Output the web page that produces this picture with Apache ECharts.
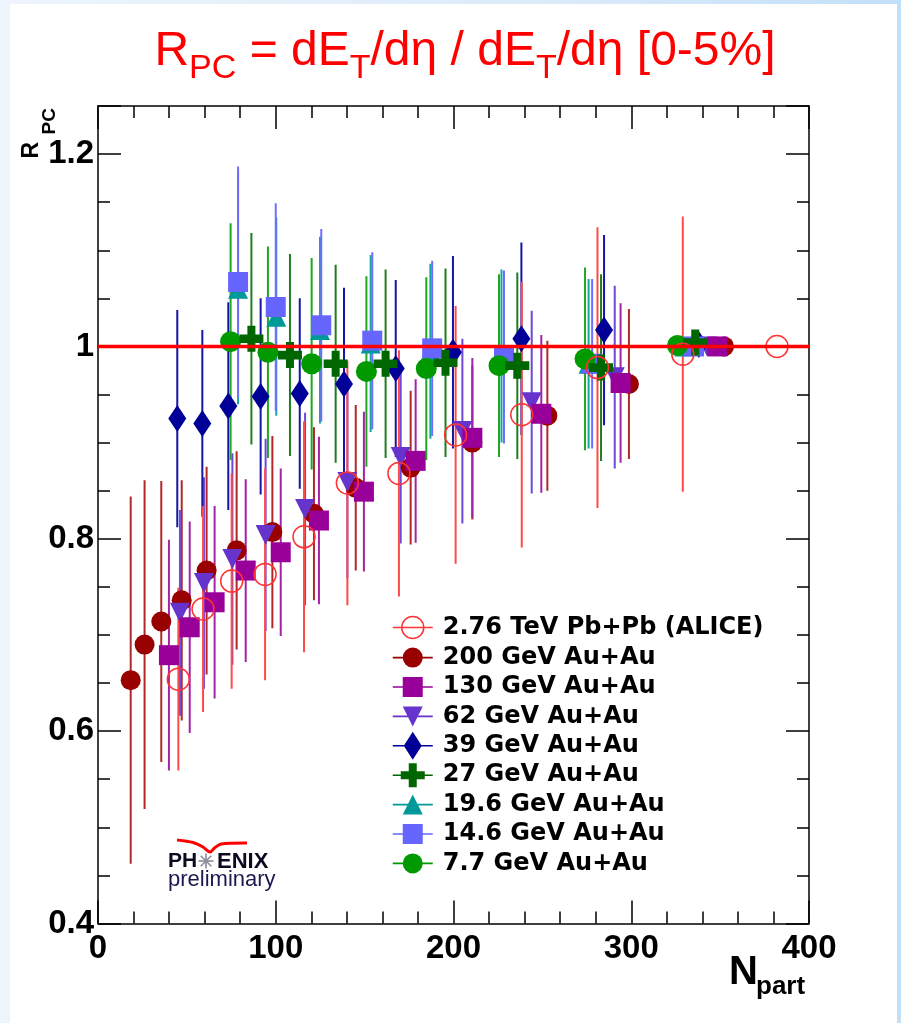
<!DOCTYPE html>
<html><head><meta charset="utf-8">
<script src="https://cdn.jsdelivr.net/npm/echarts@6/dist/echarts.min.js"></script>
<style>
html,body{margin:0;padding:0;width:901px;height:1023px;overflow:hidden;background:linear-gradient(to right,#eef5fc 0%,#dcebfa 60%,#c2dff8 100%);}
#paper{position:absolute;left:10px;top:4px;width:887px;height:1019px;background:#fff;}
#chart{position:absolute;left:0;top:0;width:901px;height:1023px;}
</style></head><body><div id="paper"></div><div id="chart"></div>
<script>
// ---------- data ----------
const seriesNames = ['2.76 TeV Pb+Pb (ALICE)','200 GeV Au+Au','130 GeV Au+Au','62 GeV Au+Au','39 GeV Au+Au','27 GeV Au+Au','19.6 GeV Au+Au','14.6 GeV Au+Au','7.7 GeV Au+Au'];
const xTicks = [0,100,200,300,400];
const yTicks = [0.4,0.6,0.8,1.0,1.2];

const aliceN   = [45.2,59.1,75.2,94.0,115.9,140.3,169.3,201.2,238.4,281.0,329.0,382.0];
const aliceR   = [0.654,0.727,0.756,0.763,0.802,0.858,0.868,0.908,0.929,0.978,0.992,1.000];
const aliceErr = [0.095,0.107,0.112,0.110,0.120,0.127,0.128,0.134,0.138,0.146,0.143,0];

const au200N   = [18.4,26.2,35.6,47.1,61.1,78.0,98.1,121.5,145.0,175.9,210.6,252.8,298.7,352.2];
const au200R   = [0.653,0.690,0.714,0.736,0.767,0.788,0.807,0.826,0.853,0.874,0.900,0.928,0.961,1.000];
const au200Err = [0.191,0.171,0.146,0.125,0.108,0.103,0.100,0.090,0.086,0.080,0.080,0.078,0.078,0];

const au130N   = [39.9,51.6,65.6,83.1,102.8,124.3,149.6,178.7,210.6,249.4,294.0,348.4];
const au130R   = [0.679,0.708,0.734,0.767,0.786,0.819,0.849,0.881,0.905,0.930,0.962,1.000];
const au130Err = [0.120,0.110,0.100,0.095,0.087,0.087,0.083,0.085,0.083,0.082,0.083,0];

const au62N    = [46.1,59.6,75.6,94.3,116.5,140.3,170.3,205.0,244.0,290.7,342.6];
const au62R    = [0.723,0.754,0.779,0.804,0.831,0.859,0.885,0.912,0.942,0.968,1.000];
const au62Err  = [0.107,0.110,0.110,0.100,0.100,0.100,0.090,0.096,0.095,0.095,0];

const au39N    = [44.6,58.7,73.3,91.5,113.5,138.4,167.5,199.7,238.2,284.7,338.0];
const au39R    = [0.925,0.920,0.938,0.948,0.951,0.961,0.977,0.994,1.008,1.017,1.002];
const au39Err  = [0.113,0.097,0.108,0.102,0.099,0.100,0.092,0.100,0.100,0.099,0];

const au27N    = [86.3,108.0,133.7,161.8,195.5,235.9,283.0,336.0];
const au27R    = [1.008,0.991,0.982,0.982,0.983,0.980,0.978,1.004];
const au27Err  = [0.110,0.105,0.103,0.098,0.098,0.097,0.097,0];

const au19N    = [78.8,100.3,124.9,153.4,187.0,227.0,276.0,330.0];
const au19R    = [1.060,1.031,1.017,1.003,0.995,0.990,0.982,1.000];
const au19Err  = [0.120,0.103,0.097,0.092,0.091,0.090,0.088,0];

const au14N    = [78.8,100.0,125.6,154.3,188.0,228.4,278.0,335.3];
const au14R    = [1.067,1.041,1.022,1.006,0.998,0.989,0.982,1.000];
const au14Err  = [0.120,0.108,0.100,0.092,0.091,0.090,0.088,0];

const au7N     = [74.6,95.6,120.2,151.0,184.7,225.6,274.0,326.0];
const au7R     = [1.005,0.994,0.982,0.974,0.977,0.980,0.987,1.001];
const au7Err   = [0.123,0.110,0.110,0.099,0.095,0.095,0.095,0];

const refLine = [[0,1],[400,1]];

// ---------- build ----------
const chart = echarts.init(document.getElementById('chart'), null, {renderer:'canvas'});
const FONT = '"Liberation Sans", Arial, sans-serif';

function pts(N,R,E){ return N.map((n,i)=>[n,R[i],E[i]]); }

function errSeries(name, data, color){
  return {
    type:'custom', name: name+' err', data: data, z:2, silent:true, clip:true,
    encode:{x:0,y:1},
    renderItem: function(params, api){
      const x=api.value(0), y=api.value(1), e=api.value(2);
      if(!e) return null;
      const p1=api.coord([x,y-e]), p2=api.coord([x,y+e]);
      return {type:'line', shape:{x1:p1[0],y1:p1[1],x2:p2[0],y2:p2[1]}, style:{stroke:color,lineWidth:2,opacity:1}};
    }
  };
}
function markSeries(name, data, symbol, size, style){
  return {type:'scatter', name:name, data:data.map(d=>[d[0],d[1]]), symbol:symbol, symbolSize:size,
    itemStyle:Object.assign({opacity:1}, style), z:3, silent:true, emphasis:{disabled:true}};
}

const crossPath = 'path://M8,0H16V8H24V16H16V24H8V16H0V8H8Z';
const downTri = 'path://M0,0H20L10,20Z';

const defs = [
  {name:seriesNames[1], N:au200N, R:au200R, E:au200Err, sym:'circle', size:20, col:'#990000', ecol:'#B02828'},
  {name:seriesNames[3], N:au62N,  R:au62R,  E:au62Err,  sym:downTri, size:20, col:'#6633CC', ecol:'#6E48D8'},
  {name:seriesNames[2], N:au130N, R:au130R, E:au130Err, sym:'rect', size:20, col:'#990099', ecol:'#A522A5'},
  {name:seriesNames[4], N:au39N,  R:au39R,  E:au39Err,  sym:'diamond', size:[18,27], col:'#000099', ecol:'#1515A5'},
  {name:seriesNames[6], N:au19N,  R:au19R,  E:au19Err,  sym:'triangle', size:20, col:'#009999', ecol:'#15A5A5'},
  {name:seriesNames[7], N:au14N,  R:au14R,  E:au14Err,  sym:'rect', size:20, col:'#6666FF', ecol:'#6F6FFF'},
  {name:seriesNames[8], N:au7N,   R:au7R,   E:au7Err,   sym:'circle', size:21, col:'#009900', ecol:'#22A522'},
  {name:seriesNames[5], N:au27N,  R:au27R,  E:au27Err,  sym:crossPath, size:[24,26], col:'#006600', ecol:'#1E7E1E'}
];

const series = [];
const aliceData = pts(aliceN, aliceR, aliceErr);
defs.forEach(d=>series.push(errSeries(d.name, pts(d.N,d.R,d.E), d.ecol)));
series.push(errSeries(seriesNames[0], aliceData, '#FF4A4A'));
defs.forEach(d=>series.push(markSeries(d.name, pts(d.N,d.R,d.E), d.sym, d.size, {color:d.col})));
series.push(markSeries(seriesNames[0], aliceData, 'circle', 22, {color:'rgba(0,0,0,0)', borderColor:'#FF3333', borderWidth:1.5}));
series.push({type:'line', name:'ref', data:refLine, symbol:'none', z:6, silent:true,
  lineStyle:{color:'#FF0000', width:3.5}});

// legend icons (45 x 28 box, drawing inside 0..40)
const ANC = 'M0,0L0,0M45,28L45,28';
const LINE = 'M0,13.2H40V14.8H0Z';
const icons = {
  alice: 'path://'+ANC+'M0,14H40M31,14A11,11,0,1,1,9,14A11,11,0,1,1,31,14Z',
  circ:  'path://'+ANC+LINE+'M30,14A10,10,0,1,1,10,14A10,10,0,1,1,30,14Z',
  sq:    'path://'+ANC+LINE+'M10,4H30V24H10Z',
  dtri:  'path://'+ANC+LINE+'M10,4H30L20,24Z',
  dia:   'path://'+ANC+LINE+'M20,0L29,14L20,28L11,14Z',
  cross: 'path://'+ANC+LINE+'M16,2H24V10H32V18H24V26H16V18H8V10H16Z',
  utri:  'path://'+ANC+LINE+'M20,4L30,24H10Z'
};
const legendData = [
  {name:seriesNames[0], icon:icons.alice, itemStyle:{color:'rgba(0,0,0,0)', borderColor:'#FF3333', borderWidth:1.5, opacity:1}},
  {name:seriesNames[1], icon:icons.circ,  itemStyle:{color:'#990000', borderWidth:0, opacity:1}},
  {name:seriesNames[2], icon:icons.sq,    itemStyle:{color:'#990099', borderWidth:0, opacity:1}},
  {name:seriesNames[3], icon:icons.dtri,  itemStyle:{color:'#6633CC', borderWidth:0, opacity:1}},
  {name:seriesNames[4], icon:icons.dia,   itemStyle:{color:'#000099', borderWidth:0, opacity:1}},
  {name:seriesNames[5], icon:icons.cross, itemStyle:{color:'#006600', borderWidth:0, opacity:1}},
  {name:seriesNames[6], icon:icons.utri,  itemStyle:{color:'#009999', borderWidth:0, opacity:1}},
  {name:seriesNames[7], icon:icons.sq,    itemStyle:{color:'#6666FF', borderWidth:0, opacity:1}},
  {name:seriesNames[8], icon:icons.circ,  itemStyle:{color:'#009900', borderWidth:0, opacity:1}}
];

// title pieces measured with canvas
const mctx = document.createElement('canvas').getContext('2d');
function tw(t, fs, w){ mctx.font = (w||'normal')+' '+fs+'px '+FONT; return mctx.measureText(t).width; }
const titlePieces = [['R',48,0],['PC',34,1],[' = dE',48,0],['T',34,1],['/d\u03b7 / dE',48,0],['T',34,1],['/d\u03b7 [0-5%]',48,0]];
let total = 0; titlePieces.forEach(p=>{p.w=tw(p[0],p[1]); total+=p.w;});
let cx = 465 - total/2;
const graphics = [];
titlePieces.forEach(p=>{
  const base = p[2] ? 80 : 68.5;
  graphics.push({type:'text', x:cx, y:base - 0.3465*p[1], silent:true,
    style:{text:p[0], font:'normal '+p[1]+'px '+FONT, fill:'#FF0000', textAlign:'left', textVerticalAlign:'middle'}});
  cx += p.w;
});
// axis titles
graphics.push({type:'text', x:32, y:158.5, rotation:Math.PI/2, silent:true,
  style:{text:'R', font:'bold 23px '+FONT, fill:'#000', textAlign:'left', textVerticalAlign:'middle'}});
graphics.push({type:'text', x:50, y:134.5, rotation:Math.PI/2, silent:true,
  style:{text:'PC', font:'bold 19px '+FONT, fill:'#000', textAlign:'left', textVerticalAlign:'middle'}});
graphics.push({type:'text', x:729, y:972.5, silent:true,
  style:{text:'N', font:'bold 40px '+FONT, fill:'#000', textAlign:'left', textVerticalAlign:'middle'}});
graphics.push({type:'text', x:756, y:986.7, silent:true,
  style:{text:'part', font:'bold 26px '+FONT, fill:'#000', textAlign:'left', textVerticalAlign:'middle'}});
// PHENIX logo
graphics.push({type:'polyline', silent:true, shape:{points:[[177,840],[193,842.5],[203,847],[210,852],[215,847.5],[221,844],[247,843]], smooth:0.3},
  style:{stroke:'#FF0000', lineWidth:3, fill:null}});
graphics.push({type:'text', x:168, y:861.5, silent:true,
  style:{text:'PH', font:'bold 21px '+FONT, fill:'#0a0a20', textAlign:'left', textVerticalAlign:'middle'}});
for(let k=0;k<8;k++){
  const a = k*Math.PI/4;
  graphics.push({type:'line', silent:true, shape:{x1:206,y1:861,x2:206+7.5*Math.cos(a),y2:861+7.5*Math.sin(a)}, style:{stroke:'#8a8a9a', lineWidth:1.6}});
}
graphics.push({type:'text', x:217, y:861.5, silent:true,
  style:{text:'ENIX', font:'bold 22px '+FONT, fill:'#0a0a20', textAlign:'left', textVerticalAlign:'middle'}});
graphics.push({type:'text', x:168, y:880.4, silent:true,
  style:{text:'preliminary', font:'normal 22px '+FONT, fill:'#1a1a50', textAlign:'left', textVerticalAlign:'middle'}});

const axisLine = {show:true, lineStyle:{color:'#000', width:1.5}};
const tickStyle = {color:'#000', width:1.5};
const labelStyle = {fontFamily:FONT, fontWeight:'bold', fontSize:33, color:'#000'};

const option = {
  animation:false,
  backgroundColor:'transparent',
  grid:{left:98, top:106, width:711, height:817.5, containLabel:false},
  xAxis:[
    {type:'value', min:xTicks[0], max:xTicks[xTicks.length-1], interval:100, position:'bottom',
     axisLine:axisLine, axisTick:{show:true, inside:true, length:23, lineStyle:tickStyle},
     minorTick:{show:true, splitNumber:5, length:12, lineStyle:tickStyle},
     axisLabel:{...labelStyle, margin:9, formatter:v=>String(v)}, splitLine:{show:false}},
    {type:'value', min:0, max:400, interval:100, position:'top',
     axisLine:axisLine, axisTick:{show:true, inside:true, length:23, lineStyle:tickStyle},
     minorTick:{show:true, splitNumber:5, length:12, lineStyle:tickStyle},
     axisLabel:{show:false}, splitLine:{show:false}}
  ],
  yAxis:[
    {type:'value', min:0.4, max:1.25, interval:0.2, position:'left',
     axisLine:axisLine, axisTick:{show:true, inside:true, length:23, lineStyle:tickStyle},
     axisLabel:{...labelStyle, margin:4, formatter:v=>{ if(Math.abs(v-1.25)<1e-6) return ''; const r=Math.round(v*10)/10; return yTicks.some(t=>Math.abs(t-r)<1e-6)? String(r):''; }},
     splitLine:{show:false}},
    {type:'value', min:0.4, max:1.25, interval:0.05, position:'left',
     axisLine:{show:false}, axisTick:{show:true, inside:true, length:12, lineStyle:tickStyle},
     axisLabel:{show:false}, splitLine:{show:false}},
    {type:'value', min:0.4, max:1.25, interval:0.2, position:'right',
     axisLine:axisLine, axisTick:{show:true, inside:true, length:23, lineStyle:tickStyle},
     axisLabel:{show:false}, splitLine:{show:false}},
    {type:'value', min:0.4, max:1.25, interval:0.05, position:'right',
     axisLine:{show:false}, axisTick:{show:true, inside:true, length:12, lineStyle:tickStyle},
     axisLabel:{show:false}, splitLine:{show:false}}
  ],
  legend:{show:true, orient:'vertical', left:387, top:607.7, itemWidth:45, itemHeight:28, itemGap:1.4,
    selectedMode:false, data:legendData,
    textStyle:{fontFamily:'"DejaVu Sans", sans-serif', fontWeight:'bold', fontSize:24, color:'#000'}},
  graphic:graphics,
  series:series
};
chart.setOption(option);
</script></body></html>
